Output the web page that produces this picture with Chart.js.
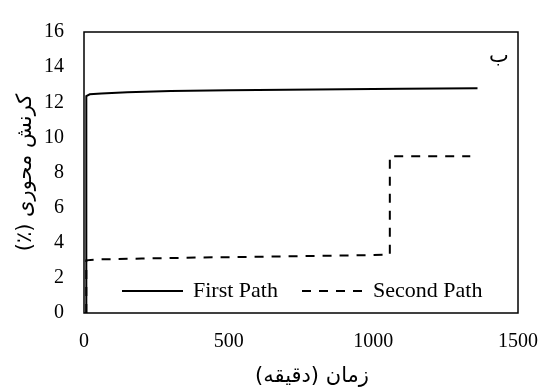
<!DOCTYPE html>
<html>
<head>
<meta charset="utf-8">
<script src="https://cdn.jsdelivr.net/npm/chart.js@4.4.1/dist/chart.umd.min.js"></script>
<style>
  html, body { margin: 0; padding: 0; background: #fff; }
  #wrap { width: 538px; height: 390px; position: relative; }
</style>
</head>
<body>
<div id="wrap"><canvas id="c" width="538" height="390"></canvas></div>
<script>
// Axial strain (%) against time (minutes) for two loading paths
const firstPathTime   = [8, 8, 20, 60, 150, 300, 500, 800, 1100, 1360];
const firstPathStrain = [0, 12.35, 12.45, 12.5, 12.57, 12.64, 12.68, 12.73, 12.77, 12.8];

const secondPathTime   = [8, 8, 50, 200, 400, 600, 800, 1000, 1057, 1057, 1335];
const secondPathStrain = [0, 3.0, 3.05, 3.1, 3.16, 3.2, 3.25, 3.3, 3.33, 8.93, 8.93];

const seriesLabels = ['First Path', 'Second Path'];
const xTicks = [0, 500, 1000, 1500];
const yTicks = [0, 2, 4, 6, 8, 10, 12, 14, 16];

// right-to-left embedding keeps the Persian titles in reading order
const rtl = s => '\u202B' + s + '\u202C';
const xTitle = rtl('زمان (دقیقه)');
const yTitle = rtl('کرنش محوری (٪)');
const panelLabel = 'ب';

const toPoints = (xs, ys) => xs.map((x, i) => ({ x: x, y: ys[i] }));

const serif = "'Liberation Serif', 'Times New Roman', serif";
const arabicFont = "'DejaVu Sans', 'Noto Sans', sans-serif";

// frame around the plotting area
const frame = {
  id: 'frame',
  afterDraw(chart) {
    const a = chart.chartArea, ctx = chart.ctx;
    ctx.save();
    ctx.strokeStyle = '#000';
    ctx.lineWidth = 1.5;
    ctx.strokeRect(a.left, a.top, a.right - a.left, a.bottom - a.top);
    ctx.restore();
  }
};

// legend drawn inside the plot, along the bottom
const innerLegend = {
  id: 'innerLegend',
  afterDraw(chart) {
    const ctx = chart.ctx, a = chart.chartArea;
    const y = a.bottom - 22;
    const layout = [{ x0: 122, x1: 183, tx: 193 }, { x0: 302, x1: 367, tx: 373 }];
    ctx.save();
    ctx.font = '22px ' + serif;
    ctx.fillStyle = '#000';
    ctx.textBaseline = 'middle';
    chart.data.datasets.forEach((ds, i) => {
      const l = layout[i];
      ctx.beginPath();
      ctx.setLineDash(ds.borderDash || []);
      ctx.lineWidth = ds.borderWidth;
      ctx.strokeStyle = ds.borderColor;
      ctx.moveTo(l.x0, y);
      ctx.lineTo(l.x1, y);
      ctx.stroke();
      ctx.setLineDash([]);
      ctx.fillText(ds.label, l.tx, y);
    });
    ctx.restore();
  }
};

// panel letter and time-axis title
const annotations = {
  id: 'annotations',
  afterDraw(chart) {
    const ctx = chart.ctx, a = chart.chartArea;
    ctx.save();
    ctx.fillStyle = '#000';
    ctx.textAlign = 'center';
    ctx.textBaseline = 'middle';
    ctx.font = '21px ' + arabicFont;
    ctx.fillText(panelLabel, a.right - 19, a.top + 25);
    ctx.fillText(xTitle, (a.left + a.right) / 2 + 11, 377);
    ctx.restore();
  }
};

new Chart(document.getElementById('c'), {
  type: 'scatter',
  data: {
    datasets: [
      {
        label: seriesLabels[0],
        data: toPoints(firstPathTime, firstPathStrain),
        showLine: true,
        borderColor: '#000',
        borderWidth: 2,
        pointRadius: 0,
        tension: 0
      },
      {
        label: seriesLabels[1],
        data: toPoints(secondPathTime, secondPathStrain),
        showLine: true,
        borderColor: '#000',
        borderWidth: 2,
        borderDash: [9, 8],
        pointRadius: 0,
        tension: 0
      }
    ]
  },
  options: {
    responsive: false,
    animation: false,
    layout: { padding: { top: 21, right: 2, left: 0, bottom: 0 } },
    plugins: {
      legend: { display: false },
      tooltip: { enabled: false }
    },
    scales: {
      x: {
        type: 'linear',
        min: 0, max: 1500,
        afterBuildTicks(scale) { scale.ticks = xTicks.map(v => ({ value: v })); },
        afterFit(scale) {
          scale.height = 77;
          scale.paddingLeft = 0;
          scale.paddingRight = 20;
        },
        grid: { display: false, drawTicks: false },
        border: { display: false },
        ticks: {
          color: '#000', font: { family: serif, size: 20 }, padding: 17,
          maxRotation: 0,
          callback: v => String(v)
        },
        title: { display: false }
      },
      y: {
        type: 'linear',
        min: 0, max: 16,
        afterBuildTicks(scale) { scale.ticks = yTicks.map(v => ({ value: v })); },
        afterFit(scale) { scale.width = 84; },
        grid: { display: false, drawTicks: false },
        border: { display: false },
        ticks: {
          color: '#000', font: { family: serif, size: 20 }, padding: 20,
          callback: v => String(v)
        },
        title: {
          display: true, text: yTitle, color: '#000',
          font: { family: arabicFont, size: 21 }, padding: { top: 13, bottom: 4 }
        }
      }
    }
  },
  plugins: [frame, innerLegend, annotations]
});
</script>
</body>
</html>
